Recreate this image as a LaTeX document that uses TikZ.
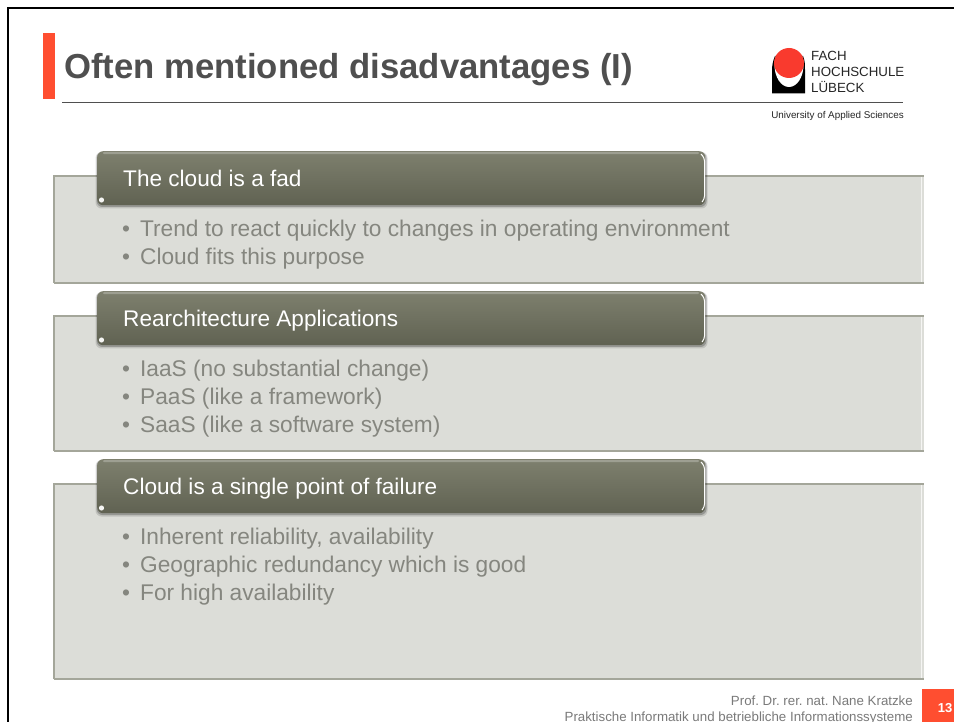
\documentclass[tikz,border=0pt]{standalone}
\usepackage{fontspec}
\setmainfont{Liberation Sans}
\frenchspacing
\definecolor{accent}{HTML}{FF4E30}
\definecolor{logored}{HTML}{F93A2E}
\definecolor{titlegray}{HTML}{4F4F4F}
\definecolor{panelfill}{HTML}{DCDDD8}
\definecolor{paneledge}{HTML}{A4A69A}
\definecolor{headtop}{HTML}{7E806E}
\definecolor{headbot}{HTML}{606252}
\definecolor{bodygray}{HTML}{85867F}
\definecolor{footgray}{HTML}{7A7A7A}
\tikzset{
  headbox/.style={rounded corners=6pt,top color=headtop,bottom color=headbot,draw=none},
  headlabel/.style={anchor=base west,text=white,font=\fontsize{22.6}{24}\selectfont,inner sep=0pt},
  bullets/.style={anchor=north west,text=bodygray,font=\fontsize{22.7}{28}\selectfont,inner sep=0pt,align=left},
  logotext/.style={anchor=base west,inner sep=0pt,text=black!85,font=\fontsize{13.3}{14}\selectfont},
  foottext/.style={anchor=base east,inner sep=0pt,text=footgray,font=\fontsize{13.3}{15}\selectfont},
}
\newcommand{\slidepanel}[7]{% name, top, bottom, headtop, headbot, title, baseline
  \fill[panelfill] (54,#2) rectangle (924,#3);
  \draw[paneledge,line width=1.4pt] (54,#3) |- (924,#2);
  \draw[paneledge,line width=1.4pt] (54,#3) -- (924,#3);
  \draw[white!70!panelfill,line width=1pt] (921.5,#2+1) -- (921.5,#3-1);
  \fill[black,opacity=.12,rounded corners=6pt] (95.5,#4+1) rectangle (707.5,#5+3.5);
  \fill[black,opacity=.22,rounded corners=6pt] (96.5,#4+1) rectangle (706.5,#5+2);
  \node[headbox,minimum width=608pt,minimum height=#5pt-#4pt,anchor=north west,inner sep=0pt] (#1) at (97,#4) {};
  \fill[white,opacity=.25,rounded corners=1pt] (103,#4+1) rectangle (699,#4+3.2);
  \draw[white,line width=1pt,rounded corners=3pt] (701,#4+3) -- (704.5,#4+7) -- (704.5,#5-6) -- (702,#5-3);
  \fill[white!70!panelfill] (101.5,#5-5) circle (2.6pt);
  \node[headlabel] (#1t) at (123,#7) {#6};
}
\begin{document}
\begin{tikzpicture}[x=1pt,y=-1pt]
\useasboundingbox (0,0) rectangle (954,722);
\fill[white] (0,0) rectangle (954,722);
\draw[black,line width=2pt] (8,722) -- (8,8) -- (954,8);
\fill[accent] (43,33) rectangle (55,99);
\node[anchor=base west,inner sep=0pt,text=titlegray,font=\bfseries\fontsize{34.7}{40}\selectfont] (title) at (64,79) {Often mentioned disadvantages (I)};
\coordinate (ruleL) at (62,102.5);
\coordinate (ruleR) at (903,102.5);
\draw[titlegray,line width=.9pt] (ruleL) -- (ruleR);
% logo
\fill[black] (772,93.5) -- (772,70) .. controls (772,66) and (773,60) .. (775,56) -- (803,56) .. controls (805,60) and (805,66) .. (805,70) -- (805,93.5) -- cycle;
\fill[white] (789,65) ellipse (14.5pt and 22pt);
\fill[logored] (789,63) circle (15pt);
\node[logotext] (l1) at (811,60.5) {FACH};
\node[logotext] (l2) at (811,77) {HOCHSCHULE};
\node[logotext] (l3) at (811,93) {LÜBECK};
\node[anchor=base east,inner sep=0pt,text=black!85,font=\fontsize{9.85}{11}\selectfont] (uas) at (904,118.5) {University of Applied Sciences};
% panels
\slidepanel{h1}{176}{283}{151}{205}{The cloud is a fad}{186.5}
\node[bullets] (b1) at (122,220) {•\hspace{10pt}Trend to react quickly to changes in operating environment\\•\hspace{10pt}Cloud fits this purpose};
\slidepanel{h2}{316}{451}{291}{345}{Rearchitecture Applications}{326.5}
\node[bullets] (b2) at (122,360) {•\hspace{10pt}IaaS (no substantial change)\\•\hspace{10pt}PaaS (like a framework)\\•\hspace{10pt}SaaS (like a software system)};
\slidepanel{h3}{484}{679}{459}{513}{Cloud is a single point of failure}{494.5}
\node[bullets] (b3) at (122,528) {•\hspace{10pt}Inherent reliability, availability\\•\hspace{10pt}Geographic redundancy which is good\\•\hspace{10pt}For high availability};
% footer
\node[foottext] (f1) at (913,705) {Prof. Dr. rer. nat. Nane Kratzke};
\node[foottext] (f2) at (913,721) {Praktische Informatik und betriebliche Informationssysteme};
\fill[accent] (922,689) rectangle (954,722);
\node[anchor=center,inner sep=0pt,text=white,font=\bfseries\fontsize{13}{15}\selectfont] (pg) at (945,708) {13};
\end{tikzpicture}
\end{document}
